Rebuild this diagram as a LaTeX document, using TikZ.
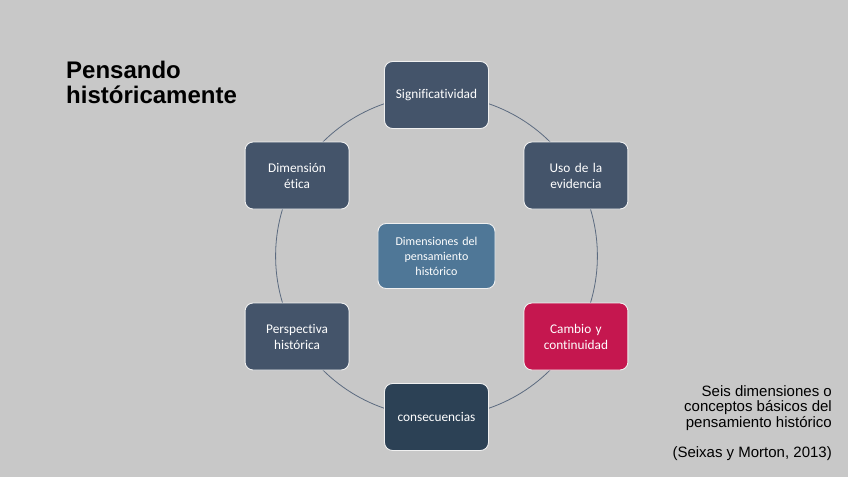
\documentclass[tikz,border=0pt]{standalone}
\usepackage{fontspec}
\setmainfont{Carlito}[Ligatures=CommonOff]
\newfontfamily\arialfont{Liberation Sans}
\usepackage{tikz}
\usetikzlibrary{calc}
\usetikzlibrary{positioning, backgrounds}

\definecolor{bggray}{HTML}{C8C8C8}
\definecolor{slate}{HTML}{44546A}
\definecolor{slatedark}{HTML}{2C4155}
\definecolor{crimson}{HTML}{C5174F}
\definecolor{steel}{HTML}{4F7797}
\definecolor{ringline}{HTML}{5C6B80}

\tikzset{
  dimbox/.style={draw=white!88!gray, line width=0.9pt, fill=slate, rounded corners=8pt,
    minimum width=104pt, minimum height=67pt, text width=98pt, align=center,
    text=white, font=\fontsize{13.3}{16}\selectfont, inner sep=0pt},
  ring/.style={draw=ringline, line width=0.8pt, bend left=30, looseness=0.912}
}

\begin{document}
\begin{tikzpicture}[x=1pt, y=1pt, line cap=round, line join=round]

  \useasboundingbox (-436.5,-221) rectangle (411.5,256);

  %--------------------------
  % Six dimensions round the circle
  %--------------------------
  \node[dimbox] (sig) at (90:161) {Significatividad};
  \node[dimbox] (uso) at (30:161) {Uso de la\\evidencia};
  \node[dimbox, fill=crimson] (cambio) at (-30:161) {Cambio y\\continuidad};
  \node[dimbox, fill=slatedark] (cons) at (-90:161) {consecuencias};
  \node[dimbox] (persp) at (210:161) {Perspectiva\\histórica};
  \node[dimbox] (etica) at (150:161) {Dimensión\\ética};

  % Centre
  \node[dimbox, fill=steel, minimum width=117pt, minimum height=65pt, text width=110pt,
    font=\fontsize{12}{15}\selectfont] (centro) at (0,0) {Dimensiones del\\pensamiento\\histórico};

  % Background and ring, behind the boxes
  \begin{pgfonlayer}{background}
    \fill[bggray] (-436.5,-221) rectangle (411.5,256);
    \draw[ring] (sig.center) to (uso.center);
    \draw[ring] (uso.center) to (cambio.center);
    \draw[ring] (cambio.center) to (cons.center);
    \draw[ring] (cons.center) to (persp.center);
    \draw[ring] (persp.center) to (etica.center);
    \draw[ring] (etica.center) to (sig.center);
  \end{pgfonlayer}

  %--------------------------
  % Texts
  %--------------------------
  \node[anchor=north west, align=left, inner sep=0pt,
    font=\arialfont\bfseries\fontsize{24}{25}\selectfont] (title) at (-370.5,195)
    {Pensando\\históricamente};

  \node[anchor=north east, align=right, inner sep=0pt,
    font=\arialfont\fontsize{15}{15.5}\selectfont] (nota) at (395.5,-129)
    {Seis dimensiones o\\conceptos básicos del\\pensamiento histórico};
  \node[anchor=north east, align=right, inner sep=0pt,
    font=\arialfont\fontsize{15}{15.5}\selectfont] (cita) at (395.5,-190)
    {(Seixas y Morton, 2013)};

\end{tikzpicture}
\end{document}
